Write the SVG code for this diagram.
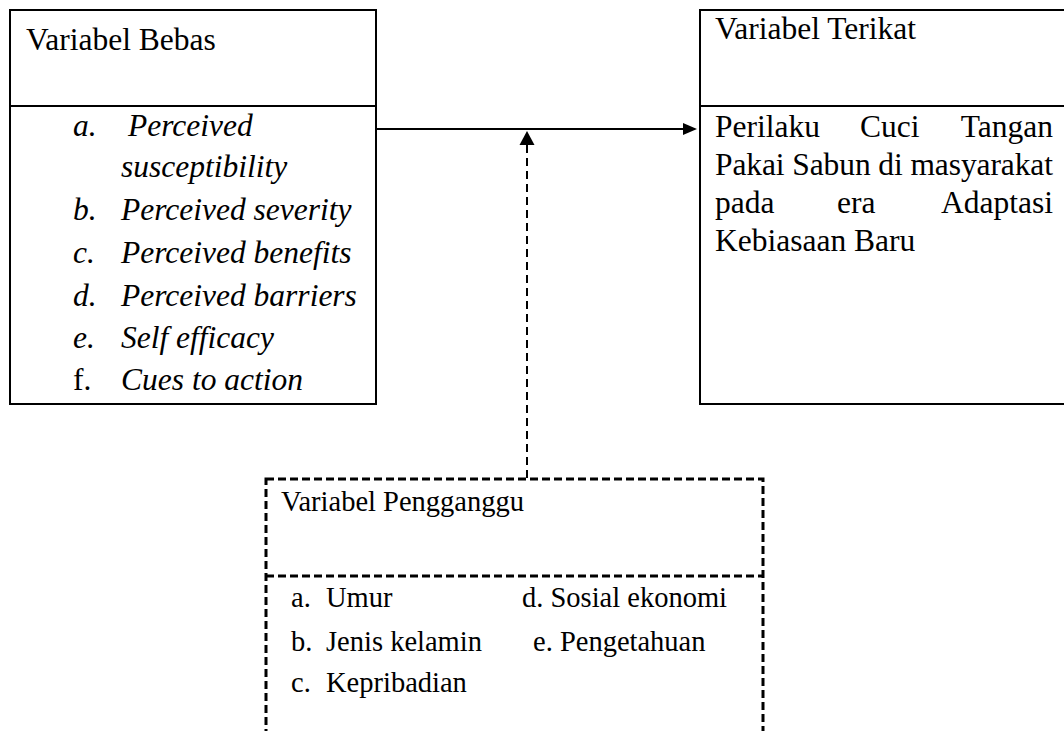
<svg xmlns="http://www.w3.org/2000/svg" width="1064" height="731" viewBox="0 0 1064 731">
<defs>
<style>
.box{fill:#fff;stroke:#000;stroke-width:2}
.dbox{fill:none;stroke:#000;stroke-width:3;stroke-dasharray:8 4}
.t{font-family:"Liberation Serif","Times New Roman",serif;font-size:31.5px;fill:#000}
.s{font-family:"Liberation Serif","Times New Roman",serif;font-size:28.5px;fill:#000}
.i{font-style:italic}
</style>
</defs>
<rect width="1064" height="731" fill="#fff"/>
<g id="connectors">
<line x1="376" y1="129" x2="684" y2="129" stroke="#000" stroke-width="2"/>
<polygon points="683,123 697,129 683,135" fill="#000"/>
<line x1="527" y1="145" x2="527" y2="479" stroke="#000" stroke-width="2" stroke-dasharray="8 5"/>
<polygon points="519.5,145 527,131 534.5,145" fill="#000"/>
</g>
<g id="variabel-bebas">
<rect class="box" x="10" y="10" width="366" height="394"/>
<line x1="10" y1="106" x2="376" y2="106" stroke="#000" stroke-width="2"/>
<text class="t" x="26" y="50">Variabel Bebas</text>
<g class="t i">
<text x="73" y="136">a.</text><text x="128" y="136">Perceived</text>
<text x="121" y="177">susceptibility</text>
<text x="73" y="220">b.</text><text x="121" y="220">Perceived severity</text>
<text x="73" y="263">c.</text><text x="121" y="263">Perceived benefits</text>
<text x="73" y="306">d.</text><text x="121" y="306">Perceived barriers</text>
<text x="73" y="348">e.</text><text x="121" y="348">Self efficacy</text>
<text x="121" y="390">Cues to action</text>
</g>
<text class="t" x="73" y="390">f.</text>
</g>
<g id="variabel-terikat">
<rect class="box" x="700" y="10" width="370" height="394"/>
<line x1="700" y1="106" x2="1070" y2="106" stroke="#000" stroke-width="2"/>
<text class="t" x="715" y="39">Variabel Terikat</text>
<text class="t" x="715" y="137">Perilaku</text>
<text class="t" x="860" y="137">Cuci</text>
<text class="t" x="1053" y="137" text-anchor="end">Tangan</text>
<text class="t" x="715" y="175" textLength="338" lengthAdjust="spacing">Pakai Sabun di masyarakat</text>
<text class="t" x="715" y="213">pada</text>
<text class="t" x="837" y="213">era</text>
<text class="t" x="1053" y="213" text-anchor="end">Adaptasi</text>
<text class="t" x="715" y="251">Kebiasaan Baru</text>
</g>
<g id="variabel-pengganggu">
<rect class="dbox" x="266" y="479" width="497" height="280"/>
<line class="dbox" x1="266" y1="576" x2="763" y2="576"/>
<text class="s" x="281" y="511">Variabel Pengganggu</text>
<text class="s" x="291" y="607">a.</text><text class="s" x="326" y="607">Umur</text>
<text class="s" x="291" y="651">b.</text><text class="s" x="326" y="651">Jenis kelamin</text>
<text class="s" x="291" y="692">c.</text><text class="s" x="326" y="692">Kepribadian</text>
<text class="s" x="522" y="607">d. Sosial ekonomi</text>
<text class="s" x="533" y="651">e. Pengetahuan</text>
</g>
</svg>
